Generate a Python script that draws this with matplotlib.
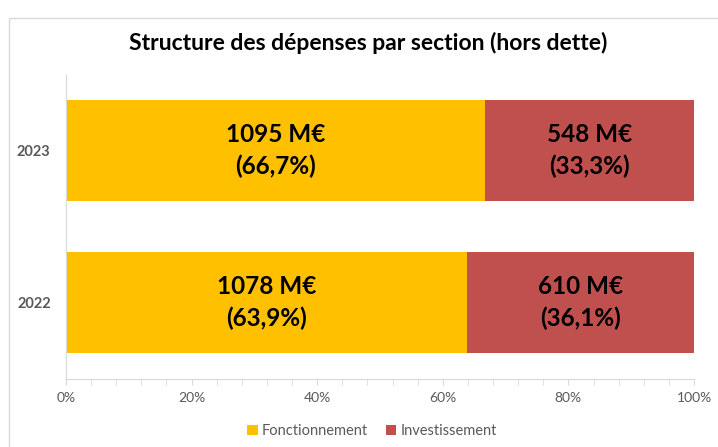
import matplotlib
matplotlib.use("Agg")
import matplotlib.pyplot as plt
from matplotlib.patches import Rectangle
from matplotlib.ticker import MultipleLocator, FuncFormatter

plt.rcParams['font.family'] = ['Lato', 'DejaVu Sans']

years = ["2022", "2023"]
fonct_meur = [1078, 1095]
fonct_pct = [63.9, 66.7]
invest_meur = [610, 548]
invest_pct = [36.1, 33.3]
series_names = ["Fonctionnement", "Investissement"]
colors = ["#FFC000", "#C0504D"]

fig = plt.figure(figsize=(7.18, 4.47), dpi=100)
fig.patches.append(Rectangle((9/718, -0.01), 1.0, (447-18)/447 + 0.01, transform=fig.transFigure,
                             fill=False, edgecolor="#D9D9D9", linewidth=1.0))

ax = fig.add_axes([66/718, (447-378.5)/447, 628/718, 304/447])
ypos = range(len(years))
b1 = ax.barh(ypos, fonct_pct, height=0.665, color=colors[0], label=series_names[0])
b2 = ax.barh(ypos, invest_pct, left=fonct_pct, height=0.665, color=colors[1], label=series_names[1])

def fmt(v):
    return f"{v:.1f}".replace(".", ",")

for i in ypos:
    ax.text(fonct_pct[i] / 2, i, f"{fonct_meur[i]} M€\n({fmt(fonct_pct[i])}%)",
            ha="center", va="center", fontsize=17.5, fontweight="bold", color="black", linespacing=1.4)
    ax.text(fonct_pct[i] + invest_pct[i] / 2, i, f"{invest_meur[i]} M€\n({fmt(invest_pct[i])}%)",
            ha="center", va="center", fontsize=17.5, fontweight="bold", color="black", linespacing=1.4)

ax.set_xlim(0, 100)
ax.set_ylim(-0.5, 1.5)
ax.set_yticks(list(ypos))
ax.set_yticklabels(years, fontsize=10.5, color="#595959", fontweight="bold")
ax.xaxis.set_major_locator(MultipleLocator(20))
ax.xaxis.set_minor_locator(MultipleLocator(4))
ax.xaxis.set_major_formatter(FuncFormatter(lambda v, p: f"{int(v)}%"))
ax.tick_params(axis="x", which="both", length=4, color="#D9D9D9", labelsize=10, labelcolor="#595959", pad=6)
ax.tick_params(axis="y", length=0, pad=11)
for s in ["top", "right"]:
    ax.spines[s].set_visible(False)
ax.spines["left"].set_color("#D9D9D9")
ax.spines["bottom"].set_color("#D9D9D9")

fig.text(368.5/718, 1 - 43/447, "Structure des dépenses par section (hors dette)",
         ha="center", va="center", fontsize=16.5, fontweight="bold", color="black")

fig.legend(handles=[b1, b2], labels=series_names, loc="center", bbox_to_anchor=(372/718, 1 - 431/447),
           ncol=2, frameon=False, fontsize=10.5, handlelength=0.7, handleheight=0.7, handletextpad=0.3,
           columnspacing=1.2, labelcolor="#595959")

fig.savefig("out.png", dpi=100)
